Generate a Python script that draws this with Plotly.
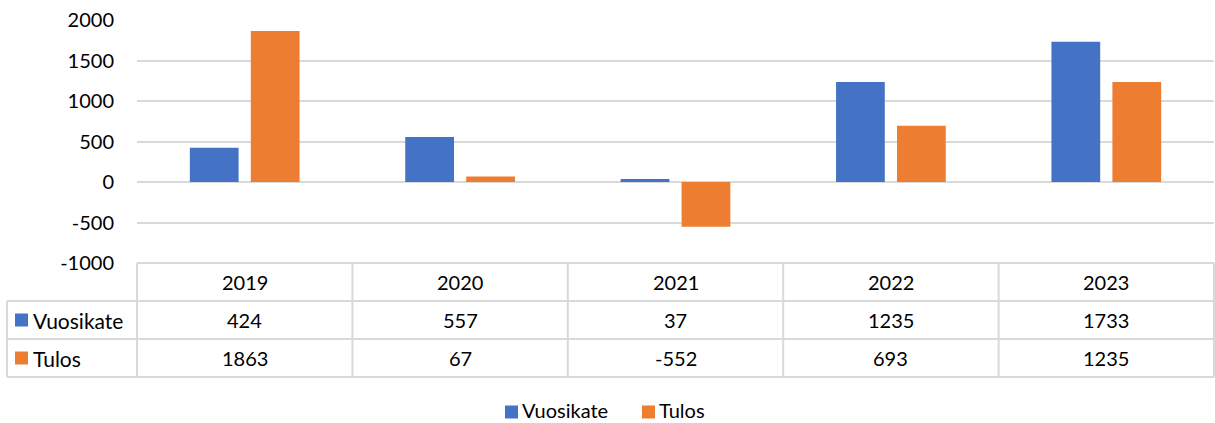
import plotly.graph_objects as go

years = ["2019", "2020", "2021", "2022", "2023"]
series_names = ["Vuosikate", "Tulos"]
vuosikate = [424, 557, 37, 1235, 1733]
tulos = [1863, 67, -552, 693, 1235]
colors = ["#4472C4", "#ED7D31"]
y_ticks = [-1000, -500, 0, 500, 1000, 1500, 2000]
y_tick_text = ["-1000", "-500", "0", "500", "1000", "1500", "2000"]

W, H = 1215, 423
L, R, T, B = 137, 1, 20, 160
PW = W - L - R
PH = H - T - B
FONT = "Lato"
FS = 20
FS_WORD = 21
GRID = "#d9d9d9"

def px(x):
    return (x - L) / PW

def py(y):
    return (H - B - y) / PH

fig = go.Figure()
for name, vals, c in zip(series_names, [vuosikate, tulos], colors):
    fig.add_trace(go.Bar(x=years, y=vals, name=name, marker_color=c,
                         marker_line_width=0, showlegend=False))

shapes = []
def line(x0, y0, x1, y1):
    shapes.append(dict(type="line", xref="paper", yref="paper",
                       x0=px(x0), y0=py(y0), x1=px(x1), y1=py(y1),
                       line=dict(color=GRID, width=2)))

def square(x0, cy, size, color):
    shapes.append(dict(type="rect", xref="paper", yref="paper",
                       x0=px(x0), x1=px(x0 + size),
                       y0=py(cy + size / 2), y1=py(cy - size / 2),
                       fillcolor=color, line=dict(width=0)))

right = W - 1
row_y = [263, 301, 339, 377]
line(L, row_y[0], right, row_y[0])
for yy in row_y[1:]:
    line(7, yy, right, yy)
line(7, row_y[1], 7, row_y[3])
col_w = (right - L) / len(years)
for i in range(len(years) + 1):
    xx = L + i * col_w
    line(xx, row_y[0], xx, row_y[3])

annotations = []
def text(x, y, s, xanchor="center", size=FS, pad=1):
    annotations.append(dict(xref="paper", yref="paper", x=px(x), y=py(y),
                            text=s, showarrow=False, xanchor=xanchor,
                            yanchor="middle", borderpad=pad,
                            font=dict(family=FONT, size=size, color="#000")))

for i, yr in enumerate(years):
    cx = L + (i + 0.5) * col_w
    text(cx, (row_y[0] + row_y[1]) / 2, yr)
    text(cx, (row_y[1] + row_y[2]) / 2, str(vuosikate[i]))
    text(cx, (row_y[2] + row_y[3]) / 2, str(tulos[i]))

for j, (name, c) in enumerate(zip(series_names, colors)):
    cy = (row_y[1 + j] + row_y[2 + j]) / 2
    square(15, cy, 13, c)
    text(31, cy, name, xanchor="left", size=FS_WORD)

# bottom legend (drawn manually to match spacing)
legend_x = [505, 642]
legend_cy = 412
for name, c, lx in zip(series_names, colors, legend_x):
    square(lx, legend_cy, 13, c)
    text(lx + 16, legend_cy - 2, name, xanchor="left", size=FS, pad=0)

fig.update_layout(
    width=W, height=H,
    margin=dict(l=L, r=R, t=T, b=B, pad=0, autoexpand=False),
    paper_bgcolor="white", plot_bgcolor="white",
    barmode="group", bargap=0.434, bargroupgap=0.2,
    font=dict(family=FONT, size=FS, color="#000"),
    xaxis=dict(showticklabels=False, showgrid=False, showline=False,
               zeroline=False, ticks=""),
    yaxis=dict(range=[-1000, 2000], tickvals=y_ticks, ticktext=y_tick_text,
               showgrid=True, gridcolor=GRID, gridwidth=1.5, zeroline=True,
               zerolinecolor=GRID, zerolinewidth=1.5, showline=False,
               ticks="", ticklabelstandoff=22,
               tickfont=dict(family=FONT, size=FS, color="#000")),
    showlegend=False,
    shapes=shapes, annotations=annotations,
)

post = (
    "var s=document.createElement('style');"
    "s.textContent='html,body{margin:0;padding:0;overflow:hidden;}';"
    "document.head.appendChild(s);"
)
fig.write_html("out.html", config={"displayModeBar": False}, post_script=post)
